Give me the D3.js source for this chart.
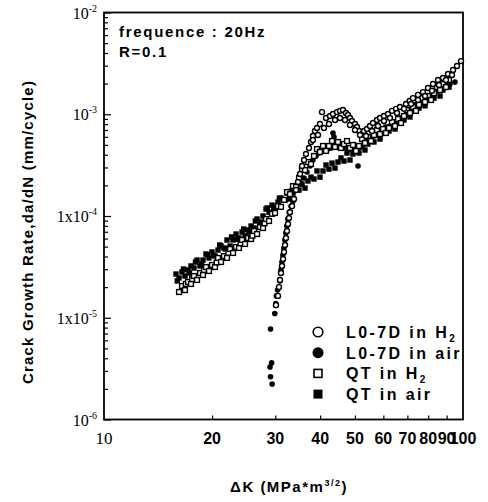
<!DOCTYPE html>
<html>
<head>
<meta charset="utf-8">
<script src="https://cdn.jsdelivr.net/npm/d3@7"></script>
<style>
  body { margin: 0; background: #fff; }
  svg { display: block; }
</style>
</head>
<body>
<div id="chart"></div>
<script>
const sansFont = "'Liberation Sans', Arial, Helvetica, sans-serif";
const serifFont = "'Liberation Serif', 'Times New Roman', serif";

// [deltaK (MPa*m^1/2), da/dN (mm/cycle)]
const lo7dH2 = [
  [30.14, 1.33e-5], [30.53, 1.64e-5], [30.72, 2.0e-5], [30.92, 2.35e-5], [31.12, 2.75e-5],
  [31.32, 3.23e-5], [31.53, 3.78e-5], [31.73, 4.43e-5], [31.93, 5.19e-5], [32.13, 6.08e-5],
  [32.34, 7.12e-5], [32.55, 8.34e-5], [32.76, 9.56e-5], [32.97, 1.09e-4], [33.4, 1.25e-4],
  [33.83, 1.47e-4], [34.26, 1.8e-4], [34.7, 2.16e-4], [35.16, 2.59e-4], [35.61, 3.1e-4],
  [36.07, 3.55e-4], [36.53, 4.07e-4], [37.24, 4.66e-4], [37.72, 5.34e-4], [38.2, 6.11e-4],
  [38.7, 6.84e-4], [39.2, 7.32e-4], [39.96, 8.02e-4], [40.48, 1.05e-3], [41.53, 9.19e-4],
  [42.62, 9.61e-4], [43.44, 1.006e-3], [44.57, 1.05e-3], [45.44, 1.08e-3], [46.31, 1.1e-3],
  [47.21, 1.03e-3], [47.83, 9.83e-4], [48.44, 9.19e-4], [49.06, 8.58e-4], [50.02, 8.02e-4],
  [50.67, 7.49e-4], [51.32, 6.84e-4], [52.32, 6.39e-4], [53.0, 6.84e-4], [54.02, 7.16e-4],
  [55.07, 7.66e-4], [56.14, 8.2e-4], [57.6, 8.78e-4], [58.72, 9.19e-4], [60.24, 9.61e-4],
  [61.81, 1.006e-3], [63.42, 1.08e-3], [65.07, 1.13e-3], [66.75, 1.18e-3], [69.37, 1.26e-3],
  [71.0, 1.35e-3], [72.56, 1.44e-3], [74.93, 1.55e-3], [77.37, 1.65e-3], [79.89, 1.81e-3],
  [82.5, 1.98e-3], [85.19, 2.17e-3], [87.96, 2.27e-3], [90.83, 2.49e-3], [93.8, 2.72e-3],
  [96.22, 2.98e-3], [98.73, 3.33e-3],
  [38.2, 5.58e-4], [39.45, 6.25e-4], [41.0, 7.32e-4], [42.33, 8.02e-4], [44.0, 8.78e-4],
  [45.44, 9.19e-4], [46.91, 8.78e-4], [48.44, 7.84e-4], [50.02, 7.0e-4], [51.66, 6.25e-4],
  [53.68, 6.11e-4], [55.78, 6.84e-4], [57.97, 7.66e-4], [60.24, 8.58e-4], [62.61, 9.19e-4],
  [65.49, 1.03e-3], [68.49, 1.13e-3], [71.64, 1.26e-3], [74.93, 1.38e-3], [78.37, 1.51e-3],
  [81.97, 1.7e-3], [85.73, 1.94e-3], [89.67, 2.17e-3], [93.19, 2.43e-3]
];

const lo7dAir = [
  [29.4, 2.23e-6], [29.1, 2.63e-6], [29.0, 3.28e-6], [29.3, 3.6e-6], [29.1, 7.75e-6],
  [29.9, 1.1e-5], [30.1, 1.38e-5], [30.2, 1.64e-5], [30.45, 1.87e-5], [30.9, 2.3e-5],
  [31.1, 2.95e-5], [31.3, 3.53e-5], [31.5, 4.14e-5], [31.7, 4.85e-5], [31.9, 5.81e-5],
  [32.1, 6.8e-5], [32.3, 7.97e-5], [32.5, 9.34e-5], [32.8, 1.09e-4], [33.2, 1.25e-4],
  [33.6, 1.4e-4], [34.7, 1.8e-4], [35.38, 2.06e-4], [36.07, 2.36e-4], [36.77, 2.71e-4],
  [37.49, 3.1e-4], [38.2, 3.55e-4], [38.95, 3.89e-4], [39.71, 4.16e-4], [40.48, 4.36e-4],
  [41.26, 4.45e-4], [42.06, 4.55e-4], [42.88, 4.66e-4], [43.72, 4.77e-4], [44.57, 4.88e-4],
  [45.44, 4.88e-4], [46.31, 4.77e-4], [47.21, 4.66e-4], [48.14, 4.55e-4], [49.06, 4.45e-4],
  [50.02, 4.36e-4], [51.0, 3.1e-4], [51.0, 4.45e-4], [51.99, 4.77e-4], [53.0, 5.1e-4],
  [54.02, 5.34e-4], [55.07, 5.71e-4], [56.5, 6.11e-4], [57.97, 6.39e-4], [59.48, 6.84e-4],
  [61.02, 7.16e-4], [62.61, 7.66e-4], [64.24, 8.02e-4], [65.91, 8.58e-4], [67.63, 9.19e-4],
  [69.37, 9.83e-4], [71.18, 1.05e-3], [73.03, 1.13e-3], [74.93, 1.21e-3], [76.88, 1.29e-3],
  [78.88, 1.38e-3], [80.91, 1.48e-3], [83.03, 1.58e-3], [85.19, 1.69e-3], [87.4, 1.81e-3],
  [89.67, 1.89e-3], [91.98, 1.98e-3], [95.0, 2.07e-3], [43.44, 6.54e-4], [43.72, 5.97e-4]
];

const qtH2 = [
  [16.18, 1.79e-5], [16.49, 2.05e-5], [16.81, 1.87e-5], [16.9, 2.15e-5], [17.14, 2.25e-5],
  [17.47, 2.15e-5], [17.6, 2.4e-5], [17.81, 2.57e-5], [18.16, 2.35e-5], [18.51, 2.75e-5],
  [18.87, 2.63e-5], [19.0, 2.95e-5], [19.24, 3.15e-5], [19.61, 2.88e-5], [19.99, 3.3e-5],
  [20.38, 3.15e-5], [20.6, 3.5e-5], [20.78, 3.87e-5], [21.18, 3.53e-5], [21.59, 4.04e-5],
  [22.01, 3.87e-5], [22.2, 4.35e-5], [22.44, 4.74e-5], [22.88, 4.33e-5], [23.32, 4.96e-5],
  [23.77, 4.85e-5], [24.0, 5.4e-5], [24.24, 5.81e-5], [24.71, 5.31e-5], [25.19, 6.08e-5],
  [25.68, 5.94e-5], [25.9, 6.4e-5], [26.18, 7.12e-5], [26.69, 6.65e-5], [27.2, 7.79e-5],
  [27.73, 7.62e-5], [28.0, 8.5e-5], [28.27, 9.34e-5], [28.82, 8.93e-5], [29.38, 1.05e-4],
  [29.95, 1.07e-4], [30.53, 1.25e-4], [31.12, 1.23e-4], [31.73, 1.44e-4], [32.34, 1.72e-4],
  [32.97, 1.64e-4], [33.61, 1.97e-4], [34.26, 1.93e-4], [34.93, 2.36e-4], [35.61, 2.89e-4],
  [36.3, 2.83e-4], [37.0, 3.39e-4], [37.72, 3.24e-4], [38.45, 3.89e-4], [39.2, 4.55e-4],
  [39.96, 4.26e-4], [40.74, 4.88e-4], [41.53, 4.36e-4], [42.33, 4.88e-4], [43.16, 5.46e-4],
  [44.0, 4.77e-4], [44.85, 5.34e-4], [45.72, 4.66e-4], [46.61, 5.1e-4], [47.52, 5.46e-4],
  [48.44, 4.66e-4], [49.38, 4.99e-4], [50.34, 4.36e-4], [51.32, 4.88e-4], [52.32, 5.71e-4],
  [53.33, 5.22e-4], [54.37, 5.97e-4], [55.42, 5.46e-4], [56.5, 6.25e-4], [57.6, 7.0e-4],
  [58.72, 6.39e-4], [59.86, 7.16e-4], [61.02, 6.54e-4], [62.21, 7.32e-4], [63.42, 8.39e-4],
  [64.65, 7.66e-4], [65.91, 8.98e-4], [67.19, 8.2e-4], [68.49, 9.61e-4], [69.82, 1.1e-3],
  [71.18, 1.03e-3], [72.56, 1.18e-3], [73.97, 1.08e-3], [75.41, 1.24e-3], [76.88, 1.44e-3],
  [78.37, 1.32e-3], [79.89, 1.51e-3], [81.45, 1.38e-3], [83.03, 1.61e-3], [84.64, 1.85e-3],
  [86.29, 1.73e-3], [87.96, 1.98e-3], [89.67, 1.85e-3], [91.41, 2.17e-3]
];

const qtAir = [
  [15.87, 2.69e-5], [16.0, 2.3e-5], [16.18, 2.46e-5], [16.49, 2.82e-5], [16.65, 3.01e-5],
  [16.81, 2.57e-5], [17.14, 2.95e-5], [17.3, 2.75e-5], [17.47, 3.23e-5], [17.81, 3.08e-5],
  [17.98, 3.53e-5], [18.16, 3.69e-5], [18.51, 3.23e-5], [18.7, 3.37e-5], [18.87, 3.69e-5],
  [19.24, 4.23e-5], [19.4, 4.15e-5], [19.61, 3.87e-5], [19.99, 4.43e-5], [20.2, 4.12e-5],
  [20.38, 4.04e-5], [20.78, 4.63e-5], [21.0, 5.19e-5], [21.18, 5.07e-5], [21.59, 4.85e-5],
  [21.8, 4.74e-5], [22.01, 5.81e-5], [22.44, 5.07e-5], [22.66, 6.22e-5], [22.88, 5.81e-5],
  [23.32, 6.65e-5], [23.5, 5.9e-5], [23.77, 6.08e-5], [24.24, 6.96e-5], [24.5, 7.45e-5],
  [24.71, 6.36e-5], [25.19, 7.28e-5], [25.4, 6.96e-5], [25.68, 7.97e-5], [26.18, 7.62e-5],
  [26.4, 8.93e-5], [26.69, 9.34e-5], [27.2, 8.34e-5], [27.5, 8.73e-5], [27.73, 1.0e-4],
  [28.27, 1.17e-4], [28.5, 1.2e-4], [28.82, 1.09e-4], [29.38, 1.28e-4], [29.7, 1.18e-4],
  [29.95, 1.2e-4], [30.53, 1.37e-4], [30.8, 1.5e-4], [31.12, 1.5e-4], [31.73, 1.44e-4],
  [32.0, 1.44e-4], [32.34, 1.68e-4], [32.97, 1.47e-4], [33.3, 1.76e-4], [33.61, 1.68e-4],
  [34.26, 1.93e-4], [34.93, 1.8e-4], [35.61, 2.06e-4], [36.3, 1.88e-4], [37.0, 2.21e-4],
  [37.72, 2.41e-4], [38.45, 2.31e-4], [39.2, 2.77e-4], [39.96, 2.41e-4], [40.74, 2.77e-4],
  [41.53, 3.17e-4], [42.33, 2.89e-4], [43.16, 3.31e-4], [44.0, 2.96e-4], [44.85, 3.39e-4],
  [45.72, 3.72e-4], [46.61, 3.47e-4], [47.52, 4.16e-4], [48.44, 3.55e-4], [49.38, 4.07e-4],
  [50.34, 4.55e-4], [51.32, 4.16e-4], [52.32, 4.88e-4], [53.33, 4.45e-4], [54.37, 5.1e-4],
  [55.42, 5.58e-4], [56.5, 5.34e-4], [57.6, 6.54e-4], [58.72, 5.71e-4], [59.86, 6.54e-4],
  [61.02, 7.49e-4], [62.21, 6.84e-4], [63.42, 7.84e-4], [64.65, 7.16e-4], [65.91, 8.39e-4],
  [67.19, 9.19e-4], [68.49, 8.78e-4], [69.82, 1.05e-3], [71.18, 9.4e-4], [72.56, 1.08e-3],
  [73.97, 1.24e-3], [75.41, 1.15e-3], [76.88, 1.32e-3], [78.37, 1.21e-3], [79.89, 1.38e-3],
  [81.45, 1.51e-3], [83.03, 1.44e-3], [84.64, 1.73e-3], [86.29, 1.51e-3], [87.96, 1.73e-3],
  [89.67, 2.02e-3], [91.41, 1.85e-3]
];

const xTickValues = [10, 20, 30, 40, 50, 60, 70, 80, 90, 100];
const xTickLabels = ["10", "20", "30", "40", "50", "60", "70", "80", "90", "100"];
const yTickValues = [1e-2, 1e-3, 1e-4, 1e-5, 1e-6];
const yTickBases = ["10", "10", "1x10", "1x10", "10"];
const yTickExps = ["-2", "-3", "-4", "-5", "-6"];

const legendLabels = ["L0-7D in H", "L0-7D in air", "QT in H", "QT in air"];
const legendSubs = ["2", "", "2", ""];
const legendShapes = ["circle", "circle", "square", "square"];
const legendFilled = [false, true, false, true];

const width = 488;
const height = 502;
const margin = { top: 12.5, right: 25, bottom: 82.5, left: 104 };
const chartWidth = width - margin.left - margin.right;
const chartHeight = height - margin.top - margin.bottom;

const svg = d3
  .select("#chart")
  .append("svg")
  .attr("width", width)
  .attr("height", height)
  .style("font-family", sansFont);

const chart = svg
  .append("g")
  .attr("transform", `translate(${margin.left}, ${margin.top})`);

const xScale = d3.scaleLog().domain([10, 100]).range([0, chartWidth]);
const yScale = d3.scaleLog().domain([1e-6, 1e-2]).range([chartHeight, 0]);

// minor ticks on the left side, pointing inward
const yMinor = yScale.ticks().filter((v) => !yTickValues.some((m) => Math.abs(m - v) / m < 1e-6));

const yMinorAxis = chart
  .append("g")
  .call(d3.axisLeft(yScale).tickValues(yMinor).tickSize(-4).tickFormat(""));
yMinorAxis.select(".domain").remove();

const yMajorAxis = chart
  .append("g")
  .call(d3.axisLeft(yScale).tickValues(yTickValues).tickSize(-7).tickFormat(""));
yMajorAxis.select(".domain").remove();

const xAxis = chart
  .append("g")
  .attr("transform", `translate(0, ${chartHeight})`)
  .call(d3.axisBottom(xScale).tickValues(xTickValues.slice(1, -1)).tickSize(-4).tickFormat(""));
xAxis.select(".domain").remove();

chart.selectAll(".tick line").attr("stroke", "#000").attr("stroke-width", 1.2);

// frame
chart
  .append("rect")
  .attr("width", chartWidth)
  .attr("height", chartHeight)
  .attr("fill", "none")
  .attr("stroke", "#000")
  .attr("stroke-width", 1.8);

// y tick labels with exponents
yTickValues.forEach((v, i) => {
  const t = chart
    .append("text")
    .attr("x", -7)
    .attr("y", yScale(v) + 6)
    .attr("text-anchor", "end")
    .style("font-family", serifFont)
    .style("font-size", "16px");
  t.append("tspan").text(yTickBases[i]);
  t.append("tspan").attr("dy", -7).style("font-size", "10px").text(yTickExps[i]);
});

// x tick labels
xTickValues.forEach((v, i) => {
  chart
    .append("text")
    .attr("x", xScale(v))
    .attr("y", chartHeight + 24)
    .attr("text-anchor", "middle")
    .style("font-family", i === 0 ? serifFont : sansFont)
    .style("font-weight", i === 0 ? "normal" : "bold")
    .style("font-size", i === 0 ? "17px" : "16px")
    .text(xTickLabels[i]);
});

// points: filled first, open ones on top
function drawCircles(data, filled) {
  chart
    .append("g")
    .selectAll("circle")
    .data(data)
    .enter()
    .append("circle")
    .attr("cx", (d) => xScale(d[0]))
    .attr("cy", (d) => yScale(d[1]))
    .attr("r", filled ? 2.8 : 2.5)
    .attr("fill", filled ? "#000" : "#fff")
    .attr("stroke", "#000")
    .attr("stroke-width", filled ? 0 : 1.4);
}

function drawSquares(data, filled) {
  const s = filled ? 5.4 : 4.8;
  chart
    .append("g")
    .selectAll("rect")
    .data(data)
    .enter()
    .append("rect")
    .attr("x", (d) => xScale(d[0]) - s / 2)
    .attr("y", (d) => yScale(d[1]) - s / 2)
    .attr("width", s)
    .attr("height", s)
    .attr("fill", filled ? "#000" : "#fff")
    .attr("stroke", "#000")
    .attr("stroke-width", filled ? 0 : 1.4);
}

drawSquares(qtAir, true);
drawCircles(lo7dAir, true);
drawSquares(qtH2, false);
drawCircles(lo7dH2, false);

// annotation
svg
  .append("text")
  .attr("x", 119)
  .attr("y", 37)
  .style("font-size", "15px")
  .style("font-weight", "bold")
  .style("letter-spacing", "1.7px")
  .text("frequence : 20Hz");
svg
  .append("text")
  .attr("x", 119)
  .attr("y", 57)
  .style("font-size", "15px")
  .style("font-weight", "bold")
  .style("letter-spacing", "1.7px")
  .text("R=0.1");

// legend
const legend = svg.append("g").attr("transform", "translate(318, 332)");
legendLabels.forEach((label, i) => {
  const row = legend.append("g").attr("transform", `translate(0, ${i * 20.7})`);
  if (legendShapes[i] === "circle") {
    row
      .append("circle")
      .attr("r", legendFilled[i] ? 5.5 : 4.8)
      .attr("fill", legendFilled[i] ? "#000" : "#fff")
      .attr("stroke", "#000")
      .attr("stroke-width", legendFilled[i] ? 0 : 1.6);
  } else {
    const s = legendFilled[i] ? 9 : 8;
    row
      .append("rect")
      .attr("x", -s / 2)
      .attr("y", -s / 2)
      .attr("width", s)
      .attr("height", s)
      .attr("fill", legendFilled[i] ? "#000" : "#fff")
      .attr("stroke", "#000")
      .attr("stroke-width", legendFilled[i] ? 0 : 1.6);
  }
  const t = row
    .append("text")
    .attr("x", 28)
    .attr("y", 6)
    .style("font-size", "16px")
    .style("font-weight", "bold")
    .style("letter-spacing", "2.4px");
  t.append("tspan").text(label);
  if (legendSubs[i]) {
    t.append("tspan").attr("dy", 4).style("font-size", "10px").text(legendSubs[i]);
  }
});

// axis titles
const xTitle = svg
  .append("text")
  .attr("x", 289)
  .attr("y", 492)
  .attr("text-anchor", "middle")
  .style("font-size", "15px")
  .style("font-weight", "bold")
  .style("letter-spacing", "1.5px");
xTitle.append("tspan").text("\u0394K (MPa*m");
xTitle.append("tspan").attr("dy", -6).style("font-size", "9px").text("3/2");
xTitle.append("tspan").attr("dy", 6).text(")");

svg
  .append("text")
  .attr("transform", "rotate(-90)")
  .attr("x", -232)
  .attr("y", 33)
  .attr("text-anchor", "middle")
  .style("font-size", "15px")
  .style("font-weight", "bold")
  .style("letter-spacing", "1.2px")
  .text("Crack Growth Rate,da/dN (mm/cycle)");
</script>
</body>
</html>
